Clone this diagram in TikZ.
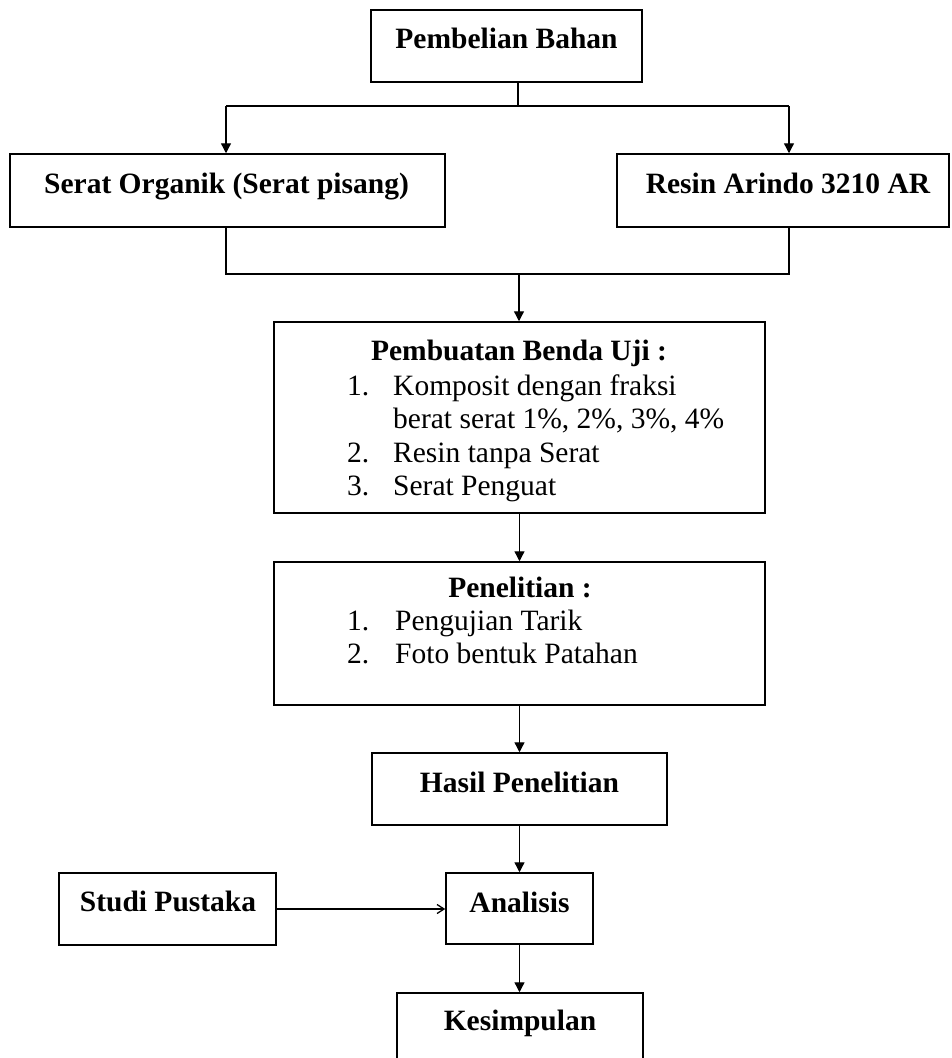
\documentclass[tikz,border=0pt]{standalone}
\usepackage{fontspec}
\setmainfont{Liberation Serif}
\usetikzlibrary{arrows.meta}
\begin{document}
\begin{tikzpicture}[x=1pt,y=-1pt,
  box/.style={draw, line width=1.5pt, inner sep=0pt},
  txt/.style={inner sep=0pt, font=\fontsize{29.5}{34}\selectfont},
  btxt/.style={inner sep=0pt, font=\fontsize{29.5}{34}\selectfont\bfseries},
  ln/.style={line width=1.3pt},
  arr/.style={line width=1.3pt, -{Triangle[length=10pt,width=10pt]}},
  barr/.style={line width=1.3pt, -{Straight Barb[length=7pt,width=9pt,line width=1.3pt]}}]
\clip (0,0) rectangle (951,1058);
\fill[white] (0,0) rectangle (951,1058);
% boxes
\node[box, minimum width=271pt, minimum height=72pt] (pb) at (506.5,46) {};
\node[box, minimum width=435pt, minimum height=73pt] (so) at (227.5,190.5) {};
\node[box, minimum width=332pt, minimum height=73pt] (ra) at (783,190.5) {};
\node[box, minimum width=491pt, minimum height=191pt] (bu) at (519.5,417.5) {};
\node[box, minimum width=491pt, minimum height=143pt] (pn) at (519.5,633.5) {};
\node[box, minimum width=295pt, minimum height=72pt] (hp) at (519.5,789) {};
\node[box, minimum width=147pt, minimum height=71pt] (an) at (519.5,908.5) {};
\node[box, minimum width=217pt, minimum height=72pt] (sp) at (167.5,909) {};
\node[box, minimum width=246pt, minimum height=82pt] (ks) at (520,1034) {};
% texts
\node[btxt, anchor=base] (tpb) at (506.5,48) {Pembelian Bahan};
\node[btxt, anchor=base] (tso) at (226.5,193) {Serat Organik (Serat pisang)};
\node[btxt, anchor=base] (tra) at (788,193) {Resin Arindo 3210 AR};
\node[btxt, anchor=base] (tbu) at (519,360) {Pembuatan Benda Uji :};
\node[txt, anchor=base west] (n1) at (347,395) {1.};
\node[txt, anchor=base west] (l1) at (393,395) {Komposit dengan fraksi};
\node[txt, anchor=base west] (l1b) at (393,428) {berat serat 1\%, 2\%, 3\%, 4\%};
\node[txt, anchor=base west] (n2) at (347,462) {2.};
\node[txt, anchor=base west] (l2) at (393,462) {Resin tanpa Serat};
\node[txt, anchor=base west] (n3) at (347,495) {3.};
\node[txt, anchor=base west] (l3) at (393,495) {Serat Penguat};
\node[btxt, anchor=base] (tpn) at (520,597) {Penelitian :};
\node[txt, anchor=base west] (m1) at (347,630) {1.};
\node[txt, anchor=base west] (k1) at (395,630) {Pengujian Tarik};
\node[txt, anchor=base west] (m2) at (347,663) {2.};
\node[txt, anchor=base west] (k2) at (395,663) {Foto bentuk Patahan};
\node[btxt, anchor=base] (thp) at (519.5,792) {Hasil Penelitian};
\node[btxt, anchor=base] (tan) at (519.5,912) {Analisis};
\node[btxt, anchor=base] (tsp) at (168,911) {Studi Pustaka};
\node[btxt, anchor=base] (tks) at (520,1030) {Kesimpulan};
% connectors
\coordinate (j0) at (518,106);
\coordinate (ja) at (226,106);
\coordinate (jb) at (789,106);
\draw[ln] (pb.south -| j0) -- (j0);
\draw[ln] (ja) -- (jb);
\draw[arr] (ja) -- (ja |- so.north);
\draw[arr] (jb) -- (jb |- ra.north);
\coordinate (ka) at (226,274);
\coordinate (kb) at (789,274);
\coordinate (km) at (519,274);
\draw[ln] (ka |- so.south) -- (ka) -- (kb) -- (kb |- ra.south);
\draw[arr] (km) -- (km |- bu.north);
\draw[arr] (bu.south) -- (pn.north);
\draw[arr] (pn.south) -- (hp.north);
\draw[arr] (hp.south) -- (an.north);
\draw[arr] (an.south) -- (ks.north -| an.south);
\draw[barr] (sp.east) -- (an.west |- sp.east);
\end{tikzpicture}
\end{document}
